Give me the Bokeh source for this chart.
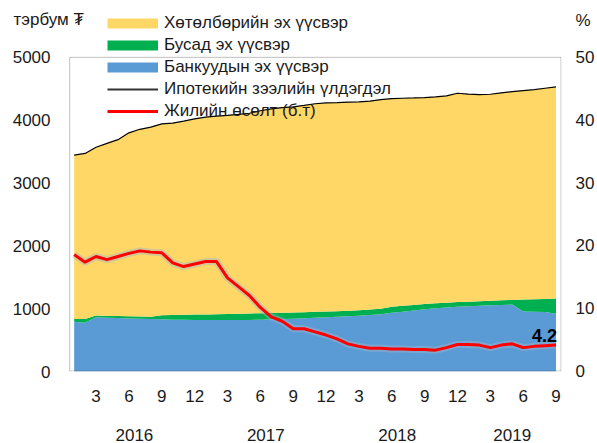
from bokeh.plotting import figure
from bokeh.models import (Range1d, LinearAxis, FixedTicker, ColumnDataSource,
                          Legend, LegendItem, BoxAnnotation, Label)
from bokeh.core.properties import value
from bokeh.embed import file_html
from bokeh.resources import INLINE

# ---------------- data ----------------
months = [1, 2, 3, 4, 5, 6, 7, 8, 9, 10, 11, 12,
          1, 2, 3, 4, 5, 6, 7, 8, 9, 10, 11, 12,
          1, 2, 3, 4, 5, 6, 7, 8, 9, 10, 11, 12,
          1, 2, 3, 4, 5, 6, 7, 8, 9]
years = [2016] * 12 + [2017] * 12 + [2018] * 12 + [2019] * 9

# Банкуудын эх үүсвэр (тэрбум ₮)
bank = [790, 775, 865, 855, 850, 845, 840, 835, 830, 825, 822, 820,
        820, 820, 818, 818, 820, 825, 830, 835, 840, 848, 855, 862,
        870, 878, 888, 898, 912, 935, 950, 970, 990, 1005, 1018, 1030,
        1040, 1048, 1055, 1060, 1065, 955, 950, 948, 920]
# Бусад эх үүсвэр
other = [45, 60, 25, 30, 32, 33, 35, 37, 65, 75, 81, 86,
         88, 92, 98, 102, 104, 103, 103, 102, 101, 97, 95, 93,
         90, 88, 85, 87, 88, 95, 95, 90, 85, 80, 77, 75,
         72, 72, 73, 74, 75, 190, 200, 207, 240]
# Ипотекийн зээлийн үлдэгдэл
total = [3444, 3471, 3570, 3630, 3690, 3799, 3855, 3890, 3942, 3952, 3985, 4020,
         4050, 4065, 4078, 4092, 4110, 4150, 4180, 4200, 4212, 4235, 4262, 4275,
         4280, 4286, 4291, 4302, 4328, 4343, 4349, 4354, 4360, 4370, 4386, 4429,
         4415, 4407, 4413, 4434, 4455, 4471, 4487, 4508, 4529]
# Жилийн өсөлт (%)
growth = [18.6, 17.4, 18.3, 17.8, 18.3, 18.8, 19.2, 19.0, 18.9, 17.3, 16.7, 17.1,
          17.5, 17.5, 14.9, 13.5, 12.1, 10.2, 8.7, 8.0, 6.8, 6.8, 6.3, 5.8,
          5.2, 4.4, 4.0, 3.7, 3.7, 3.6, 3.6, 3.5, 3.5, 3.4, 3.8, 4.3,
          4.3, 4.2, 3.8, 4.2, 4.4, 3.8, 4.0, 4.1, 4.2]

left_ticks = [0, 1000, 2000, 3000, 4000, 5000]
right_ticks = [0, 10, 20, 30, 40, 50]
left_unit = "тэрбум ₮"
right_unit = "%"
legend_labels = ["Хөтөлбөрийн эх үүсвэр", "Бусад эх үүсвэр", "Банкуудын эх үүсвэр",
                 "Ипотекийн зээлийн үлдэгдэл", "Жилийн өсөлт (б.т)"]

C_YEL = "#FED766"
C_GRN = "#00B050"
C_BLU = "#5B9BD5"
C_RED = "#FF0000"
FONT = "Liberation Sans"

# ---------------- layout (pixels) ----------------
W, H = 597, 443
F_LEFT, F_RIGHT, F_TOP, F_BOTTOM = 12, 564, 5, 372   # drawing frame
BOX_LEFT = 69                                         # visible chart box left edge
DATA_TOP_PX = 57                                      # where 5000 / 50% sits
X_FIRST_PX, X_LAST_PX = 74, 558.5                     # first / last month
LEFT_LABEL_RIGHT = 50                                 # right edge of left tick labels
UNIT_ROW_PX = 20                                      # row of the unit captions
px_per_unit = (F_BOTTOM - DATA_TOP_PX) / left_ticks[-1]
y_max = (F_BOTTOM - F_TOP) / px_per_unit
pct_scale = right_ticks[-1] / left_ticks[-1]
unit_tick = (F_BOTTOM - UNIT_ROW_PX) / px_per_unit

n = len(months)
ppx = (X_LAST_PX - X_FIRST_PX) / (n - 1)
x0 = -(X_FIRST_PX - F_LEFT) / ppx
x1 = (n - 1) + (F_RIGHT - X_LAST_PX) / ppx

# ---------------- build ----------------
x = list(range(n))
lvl1 = bank
lvl2 = [b + o for b, o in zip(bank, other)]
src = ColumnDataSource(dict(x=x, zero=[0] * n, l1=lvl1, l2=lvl2, tot=total, g=growth))

p = figure(width=W, height=H, output_backend="svg", toolbar_location=None,
           x_range=Range1d(x0, x1), y_range=Range1d(0, y_max),
           min_border_left=F_LEFT, min_border_right=W - F_RIGHT,
           min_border_top=F_TOP, min_border_bottom=H - F_BOTTOM)
p.extra_y_ranges = {"pct": Range1d(0, y_max * pct_scale)}
p.grid.visible = False
p.outline_line_color = None
p.background_fill_color = "white"
p.border_fill_color = "white"

p.varea(x="x", y1="zero", y2="l1", source=src, fill_color=C_BLU)
p.varea(x="x", y1="l1", y2="l2", source=src, fill_color=C_GRN)
p.varea(x="x", y1="l2", y2="tot", source=src, fill_color=C_YEL)
p.line(x="x", y="tot", source=src, line_color="black", line_width=1.2)
p.line(x="x", y="g", source=src, y_range_name="pct", line_color="#9fb4c9",
       line_width=7, line_alpha=0.45)
p.line(x="x", y="g", source=src, y_range_name="pct", line_color=C_RED, line_width=3)

p.text(x=[x[-1]], y=[growth[-1]], text=[f"{growth[-1]}"], y_range_name="pct",
       text_align="right", text_baseline="alphabetic", x_offset=1, y_offset=-10,
       text_font=value(FONT), text_font_size=value("18px"),
       text_font_style="bold", text_color="black")

# chart box around the 0..5000 area
half_x = 0.5 / ppx
half_y = 0.5 / px_per_unit
p.add_layout(BoxAnnotation(left=x0 + (BOX_LEFT - F_LEFT) / ppx + half_x, right=x1 - half_x,
                           bottom=half_y, top=left_ticks[-1],
                           fill_alpha=0, line_color="#333333", line_width=1))

def style_axis(ax, standoff):
    ax.axis_line_color = None
    ax.major_tick_line_color = None
    ax.minor_tick_line_color = None
    ax.major_tick_out = 0
    ax.major_tick_in = 0
    ax.minor_tick_out = 0
    ax.minor_tick_in = 0
    ax.major_label_text_font = FONT
    ax.major_label_text_font_size = "17px"
    ax.major_label_text_color = "#1a1a1a"
    ax.major_label_standoff = standoff

# left: labels pulled into the (wider) drawing frame so they end at x=50
p.yaxis.ticker = FixedTicker(ticks=left_ticks)
style_axis(p.yaxis[0], -(LEFT_LABEL_RIGHT - F_LEFT))
# right (with unit caption as top label)
r_tick = unit_tick * pct_scale
r_ax = LinearAxis(y_range_name="pct", ticker=FixedTicker(ticks=right_ticks + [r_tick]))
r_ax.major_label_overrides = {r_tick: right_unit}
style_axis(r_ax, 14)
p.add_layout(r_ax, "right")
# months
m_ticks = [i for i, m in enumerate(months) if m % 3 == 0]
p.xaxis.ticker = FixedTicker(ticks=m_ticks)
p.xaxis.major_label_overrides = {i: str(months[i]) for i in m_ticks}
style_axis(p.xaxis[0], 18)
# years
uniq_years = sorted(set(years))
y_centers = []
for yr in uniq_years:
    idx = [i for i, v in enumerate(years) if v == yr]
    y_centers.append(sum(idx) / len(idx))
yr_ax = LinearAxis(ticker=FixedTicker(ticks=y_centers))
yr_ax.major_label_overrides = {c: str(yr) for c, yr in zip(y_centers, uniq_years)}
style_axis(yr_ax, 24)
p.add_layout(yr_ax, "below")

# left unit caption
p.add_layout(Label(x=1, y=F_BOTTOM - UNIT_ROW_PX, x_units="screen", y_units="screen",
                   text=left_unit, text_font=FONT, text_font_size="17px",
                   text_baseline="middle", text_color="#1a1a1a"))

# legend via placeholder renderers (one NaN point each, nothing drawn)
nan = float("nan")
def dummy(color, width):
    return p.line(x="x", y="y", source=ColumnDataSource(dict(x=[nan], y=[nan])),
                  line_color=color, line_width=width)
d_rs = [dummy(C_YEL, 10), dummy(C_GRN, 10), dummy(C_BLU, 10),
        dummy("#333333", 2), dummy(C_RED, 3)]
items = [LegendItem(label=lab, renderers=[r]) for lab, r in zip(legend_labels, d_rs)]
legend = Legend(items=items, location=(107 - F_LEFT, 249), glyph_width=51, glyph_height=22,
                label_height=22, spacing=0, padding=0, margin=0,
                border_line_color=None, background_fill_alpha=0,
                label_text_font=FONT, label_text_font_size="17px",
                label_standoff=6, label_text_color="#1a1a1a")
p.add_layout(legend)

open("out.html", "w").write(file_html(p, INLINE))
